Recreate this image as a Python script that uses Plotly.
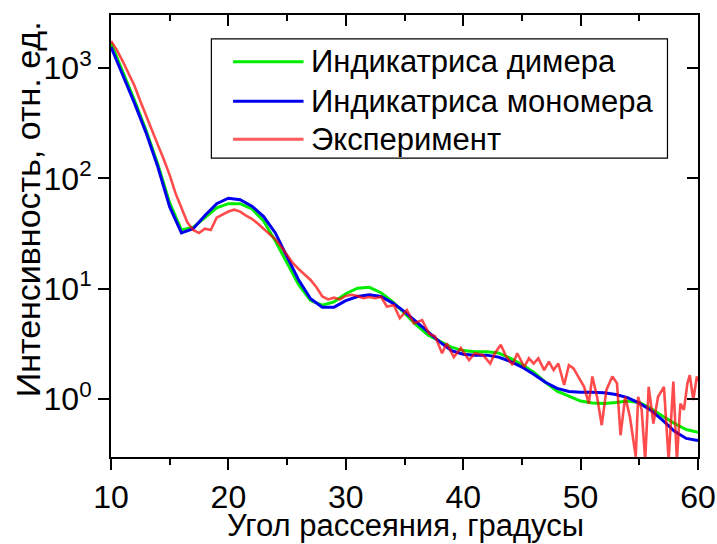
import plotly.graph_objects as go

# ---- data ----
angle_theory = list(range(10, 61))
dimer = [1680, 930, 510, 270, 133, 60, 34, 36, 44, 54,
         59, 59, 53, 41, 27, 17, 10.8, 7.8, 7.1, 7.6,
         9.0, 10.1, 10.3, 9.2, 7.6, 6.0, 4.7, 3.8, 3.35, 2.95,
         2.75, 2.68, 2.68, 2.62, 2.35, 2.05, 1.75, 1.42, 1.18, 1.06,
         0.96, 0.92, 0.91, 0.93, 0.96, 0.93, 0.82, 0.70, 0.60, 0.53,
         0.50]
monomer = [1550, 870, 480, 257, 126, 55, 32, 35, 46, 59,
           66, 64, 56, 45, 32, 19.4, 11.9, 8.1, 6.8, 6.8,
           7.8, 8.5, 8.8, 8.5, 7.4, 6.2, 5.0, 4.1, 3.3, 2.75,
           2.55, 2.5, 2.5, 2.4, 2.2, 1.95, 1.68, 1.42, 1.25, 1.17,
           1.15, 1.15, 1.14, 1.10, 1.03, 0.92, 0.79, 0.64, 0.51, 0.44,
           0.42]

angle_exp = [10, 10.5, 11, 11.5, 12, 12.5, 13, 13.5, 14, 14.5,
             15, 15.5, 16, 16.5, 17, 17.5, 18, 18.5, 19, 19.5,
             20, 20.5, 21, 21.5, 22, 22.5, 23, 23.5, 24, 24.5,
             25, 25.5, 26, 26.5, 27, 27.5, 28, 28.5, 29, 29.5,
             30, 30.5, 31, 31.5, 32, 32.5, 33, 33.5, 34.1, 34.6,
             35.2, 35.8, 36.5, 37.1, 37.6, 38.2, 38.6, 39.2, 39.8, 40.5,
             41.0, 41.7, 42.3, 42.7, 43.2, 43.6, 44.2, 44.6, 45.2, 45.6,
             46.0, 46.4, 46.9, 47.3, 47.7, 48.1, 48.6, 49.0, 49.4, 49.8,
             50.3, 50.7, 51.0, 51.4, 51.8, 52.2, 52.7, 53.1, 53.4, 53.8,
             54.2, 54.7, 54.9, 55.2, 55.5, 55.8, 56.2, 56.6, 57.1, 57.5,
             57.9, 58.2, 58.5, 58.8, 59.1, 59.3, 59.6, 59.9, 60]
experiment = [1760, 1450, 1150, 900, 690, 500, 364, 270, 200, 148,
              107, 73, 54, 40, 34, 32, 35, 34, 44, 47,
              50, 52, 50, 46, 43, 39, 35, 31, 28, 24,
              20, 17, 15, 13.5, 12, 10.3, 8.5, 8.0, 8.3, 8.0,
              8.6, 8.8, 8.6, 8.2, 8.4, 8.2, 8.45, 6.9, 7.1, 5.4,
              6.4, 4.85, 5.2, 3.9, 3.7, 2.6, 3.2, 2.4, 2.9, 2.25,
              2.6, 2.5, 2.1, 2.6, 3.1, 2.5, 2.03, 2.6, 1.96, 2.34,
              2.1, 2.34, 1.83, 2.18, 1.83, 2.1, 1.34, 2.03, 1.9, 1.6,
              1.29, 0.91, 1.6, 1.05, 0.58, 1.21, 1.6, 1.39, 0.47, 1.05,
              0.69, 0.30, 1.05, 0.80, 0.28, 1.29, 0.60, 1.05, 1.29, 0.28,
              1.44, 0.28, 0.91, 0.80, 1.39, 1.65, 0.98, 1.6, 1.45]

y_tickvals = [1, 10, 100, 1000]
y_ticktext = ["10<sup>0</sup>", "10<sup>1</sup>", "10<sup>2</sup>", "10<sup>3</sup>"]

x_title = "Угол рассеяния, градусы"
y_title = "Интенсивность, отн. ед."
legend_names = ["Индикатриса димера", "Индикатриса мономера", "Эксперимент"]
legend_colors = ["#00EE00", "#0000EE", "rgba(255,60,60,0.85)"]

FONT = "Liberation Sans, Arial, sans-serif"
FS = 31
TFS = 32
YFS = 34
yrange = [-0.525, 3.48]

fig = go.Figure()
fig.add_trace(go.Scatter(x=angle_theory, y=dimer, mode="lines",
                         line=dict(color="#00EE00", width=3), showlegend=False))
fig.add_trace(go.Scatter(x=angle_theory, y=monomer, mode="lines",
                         line=dict(color="#0000EE", width=3), showlegend=False))
fig.add_trace(go.Scatter(x=angle_exp, y=experiment, mode="lines",
                         line=dict(color="red", width=2.6), opacity=0.7, showlegend=False))
# invisible trace to activate mirrored axes
fig.add_trace(go.Scatter(x=angle_theory, y=monomer, mode="lines", xaxis="x2", yaxis="y2",
                         line=dict(width=0), opacity=0, hoverinfo="skip", showlegend=False))

# custom legend
lx0, lx1, ltx = 0.208, 0.328, 0.338
rows = [0.894, 0.805, 0.719]
fig.add_shape(type="rect", xref="paper", yref="paper", x0=0.171, x1=0.948, y0=0.676, y1=0.946,
              line=dict(color="black", width=1.2), fillcolor="white", layer="above")
for name, col, ry in zip(legend_names, legend_colors, rows):
    fig.add_shape(type="line", xref="paper", yref="paper", x0=lx0, x1=lx1, y0=ry, y1=ry,
                  line=dict(color=col, width=3), layer="above")
    fig.add_annotation(xref="paper", yref="paper", x=ltx, y=ry, text=name, showarrow=False,
                       xanchor="left", yanchor="middle", font=dict(family=FONT, size=FS, color="black"))

# axis titles
fig.add_annotation(xref="paper", yref="paper", x=0.501, y=-0.155, text=x_title, showarrow=False,
                   xanchor="center", yanchor="middle", font=dict(family=FONT, size=FS, color="black"))
fig.add_annotation(xref="paper", yref="paper", x=-0.141, y=0.561, text=y_title, showarrow=False,
                   textangle=-90, xanchor="center", yanchor="middle",
                   font=dict(family=FONT, size=YFS, color="black"))

axis_common = dict(showline=True, linecolor="black", linewidth=2, showgrid=False, zeroline=False,
                   tickcolor="black", tickwidth=2, ticklen=11, automargin=False)

fig.update_layout(
    width=717, height=544,
    margin=dict(l=111, r=19, t=15, b=87),
    paper_bgcolor="white", plot_bgcolor="white",
    font=dict(family=FONT, size=FS, color="black"),
    xaxis=dict(range=[10, 60], dtick=10, tick0=10, ticks="outside",
               minor=dict(dtick=5, ticklen=6, ticks="outside", tickwidth=2, tickcolor="black"),
               tickfont=dict(size=TFS), **axis_common),
    yaxis=dict(type="log", range=yrange, tickvals=y_tickvals, ticktext=y_ticktext,
               ticks="outside", tickfont=dict(size=TFS), **axis_common),
    xaxis2=dict(range=[10, 60], dtick=10, tick0=10, ticks="inside", overlaying="x", side="top",
                anchor="y", showticklabels=False,
                minor=dict(dtick=5, ticklen=6, ticks="inside", tickwidth=2, tickcolor="black"),
                **axis_common),
    yaxis2=dict(type="log", range=yrange, tickvals=y_tickvals, ticks="inside", overlaying="y",
                side="right", anchor="x", showticklabels=False, **axis_common),
)

fig.write_html("out.html", config={"displayModeBar": False},
               post_script="document.body.style.margin='0';document.body.style.overflow='hidden';")
